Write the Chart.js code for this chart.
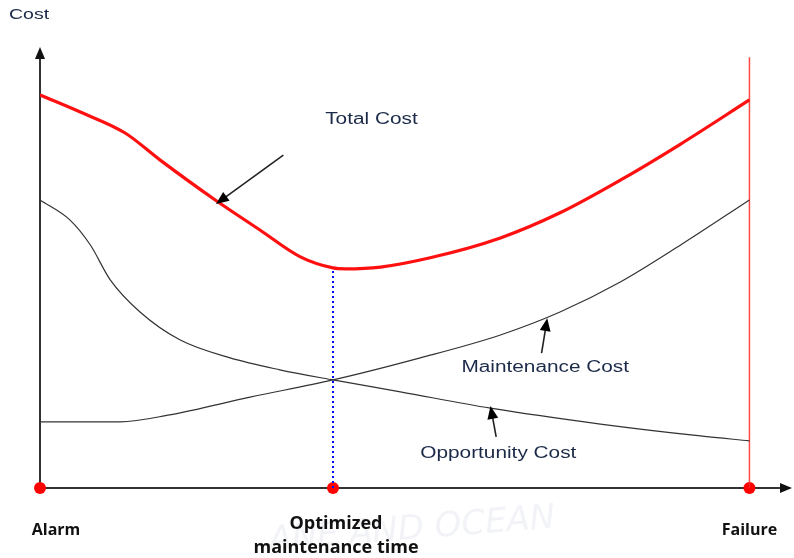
<!DOCTYPE html>
<html>
<head>
<meta charset="utf-8">
<script src="https://cdn.jsdelivr.net/npm/chart.js@4/dist/chart.umd.min.js"></script>
<style>
  html, body { margin: 0; padding: 0; background: #fff; }
  #wrap { width: 794px; height: 558px; position: relative; }
</style>
</head>
<body>
<div id="wrap"><canvas id="grafica"></canvas></div>
<script>
// tiempo: 0 = Alarm, 100 = Failure
const totalX = [0, 5.6, 12, 16.9, 24.7, 31, 36.7, 41.3, 43, 48, 55, 64.9, 73.3, 81.8, 90.3, 100];
const totalY = [89.1, 85.3, 80.5, 74.4, 65.3, 58.5, 52.4, 49.9, 49.7, 50.1, 52.2, 56.7, 62.4, 69.8, 78, 88];

const oportX = [0, 4.2, 7.1, 9.9, 14.1, 19.7, 26.8, 33.8, 41.3, 50.8, 63.5, 79, 93.1, 100];
const oportY = [65.3, 60.8, 55.1, 47.2, 39.9, 33.6, 29.5, 26.8, 24.5, 21.8, 18.1, 14.5, 11.8, 10.7];

const mantX = [0, 11.3, 18.3, 29.6, 41.3, 53.6, 64.9, 73.3, 81.8, 90.3, 100];
const mantY = [15, 15, 16.6, 20.6, 24.5, 29.5, 34.7, 39.9, 46.7, 55.1, 65.3];

const optimoX = 41.3;
const optimoY = 49.9;
const fallaX = 100;
const fallaTop = 97.7;

const hitos = ["Alarm", "Optimized|maintenance time", "Failure"];
const hitosX = [0, optimoX, fallaX];

// etiquetas con flecha: [texto, textoX, textoY, desdeX, desdeY, hastaX, hastaY]
const notas = [
  ["Total Cost", 40.2, 83.5, 34.3, 75.5, 24.8, 64.4],
  ["Maintenance Cost", 59.4, 27.4, 70.7, 30.6, 71.5, 38.5],
  ["Opportunity Cost", 53.6, 7.9, 64.3, 11.6, 63.5, 18.6]
];

const puntos = (xs, ys) => xs.map((x, i) => ({ x: x, y: ys[i] }));

function flecha(ctx, x1, y1, x2, y2, tam) {
  const a = Math.atan2(y2 - y1, x2 - x1);
  ctx.beginPath();
  ctx.moveTo(x1, y1);
  ctx.lineTo(x2 - Math.cos(a) * tam * 0.6, y2 - Math.sin(a) * tam * 0.6);
  ctx.stroke();
  ctx.beginPath();
  ctx.moveTo(x2, y2);
  ctx.lineTo(x2 - tam * Math.cos(a - 0.4), y2 - tam * Math.sin(a - 0.4));
  ctx.lineTo(x2 - tam * Math.cos(a + 0.4), y2 - tam * Math.sin(a + 0.4));
  ctx.closePath();
  ctx.fill();
}

// texto ancho como en la figura original
function textoAncho(ctx, txt, x, y) {
  ctx.save();
  ctx.translate(x, y);
  ctx.scale(1.3, 1);
  ctx.fillText(txt, 0, 0);
  ctx.restore();
}

const dibujo = {
  id: 'dibujo',
  beforeDatasetsDraw(chart) {
    const ctx = chart.ctx;
    const ca = chart.chartArea;
    ctx.save();
    ctx.strokeStyle = '#333';
    ctx.fillStyle = '#111';
    ctx.lineWidth = 2;
    flecha(ctx, ca.left, ca.bottom, ca.left, ca.top, 13);
    flecha(ctx, ca.left, ca.bottom, ca.right, ca.bottom, 13);
    ctx.restore();
  },
  afterDatasetsDraw(chart) {
    const ctx = chart.ctx;
    const sx = chart.scales.x, sy = chart.scales.y;
    ctx.save();

    // marca de agua tenue
    ctx.save();
    ctx.fillStyle = 'rgba(150,160,190,0.12)';
    ctx.font = 'italic 34px "DejaVu Sans", sans-serif';
    ctx.translate(300, 556);
    ctx.rotate(-0.08);
    ctx.fillText('ANE AND OCEAN', -30, -8);
    ctx.restore();

    ctx.fillStyle = '#1b2a48';
    ctx.font = '15px "Liberation Sans", Arial, sans-serif';
    ctx.textBaseline = 'middle';
    ctx.textAlign = 'left';
    textoAncho(ctx, 'Cost', 9, 15);

    ctx.font = '16px "Liberation Sans", Arial, sans-serif';
    notas.forEach(n => {
      ctx.fillStyle = '#1b2a48';
      ctx.textAlign = 'left';
      textoAncho(ctx, n[0], sx.getPixelForValue(n[1]), sy.getPixelForValue(n[2]));
      ctx.strokeStyle = '#222';
      ctx.fillStyle = '#000';
      ctx.lineWidth = 1.6;
      flecha(ctx, sx.getPixelForValue(n[3]), sy.getPixelForValue(n[4]),
        sx.getPixelForValue(n[5]), sy.getPixelForValue(n[6]), 14);
    });

    ctx.fillStyle = '#111';
    ctx.textAlign = 'center';
    hitos.forEach((h, i) => {
      const px = sx.getPixelForValue(hitosX[i]);
      const lineas = h.split('|');
      if (lineas.length === 1) {
        ctx.font = 'bold 16px "Open Sans", "Noto Sans", sans-serif';
        ctx.fillText(lineas[0], px + (i === 0 ? 16 : 0), 530);
      } else {
        ctx.font = 'bold 18px "Open Sans", "Noto Sans", sans-serif';
        ctx.fillText(lineas[0], px + 3, 524);
        ctx.fillText(lineas[1], px + 3, 548);
      }
    });
    ctx.restore();
  }
};

new Chart(document.getElementById('grafica'), {
  type: 'line',
  data: {
    datasets: [
      { data: puntos(totalX, totalY), borderColor: '#ff1010', borderWidth: 3.2, cubicInterpolationMode: 'monotone', pointRadius: 0 },
      { data: puntos(oportX, oportY), borderColor: '#333', borderWidth: 1.2, cubicInterpolationMode: 'monotone', pointRadius: 0 },
      { data: puntos(mantX, mantY), borderColor: '#333', borderWidth: 1.2, cubicInterpolationMode: 'monotone', pointRadius: 0 },
      { data: [{ x: fallaX, y: 0 }, { x: fallaX, y: fallaTop }], borderColor: 'rgba(255,40,40,0.85)', borderWidth: 1.5, pointRadius: 0 },
      { data: [{ x: optimoX, y: 0 }, { x: optimoX, y: optimoY }], borderColor: '#0010ff', borderWidth: 2, borderDash: [2, 3], pointRadius: 0 },
      { data: hitosX.map(x => ({ x: x, y: 0 })), showLine: false, pointRadius: 6, pointBackgroundColor: '#ff0000', pointBorderWidth: 0, clip: false }
    ]
  },
  options: {
    responsive: true,
    maintainAspectRatio: false,
    animation: false,
    layout: { autoPadding: false, padding: { left: 40, right: 2, top: 47, bottom: 70 } },
    scales: {
      x: { type: 'linear', min: 0, max: 106, display: false },
      y: { min: 0, max: 100, display: false }
    },
    plugins: { legend: { display: false }, tooltip: { enabled: false } }
  },
  plugins: [dibujo]
});
</script>
</body>
</html>
